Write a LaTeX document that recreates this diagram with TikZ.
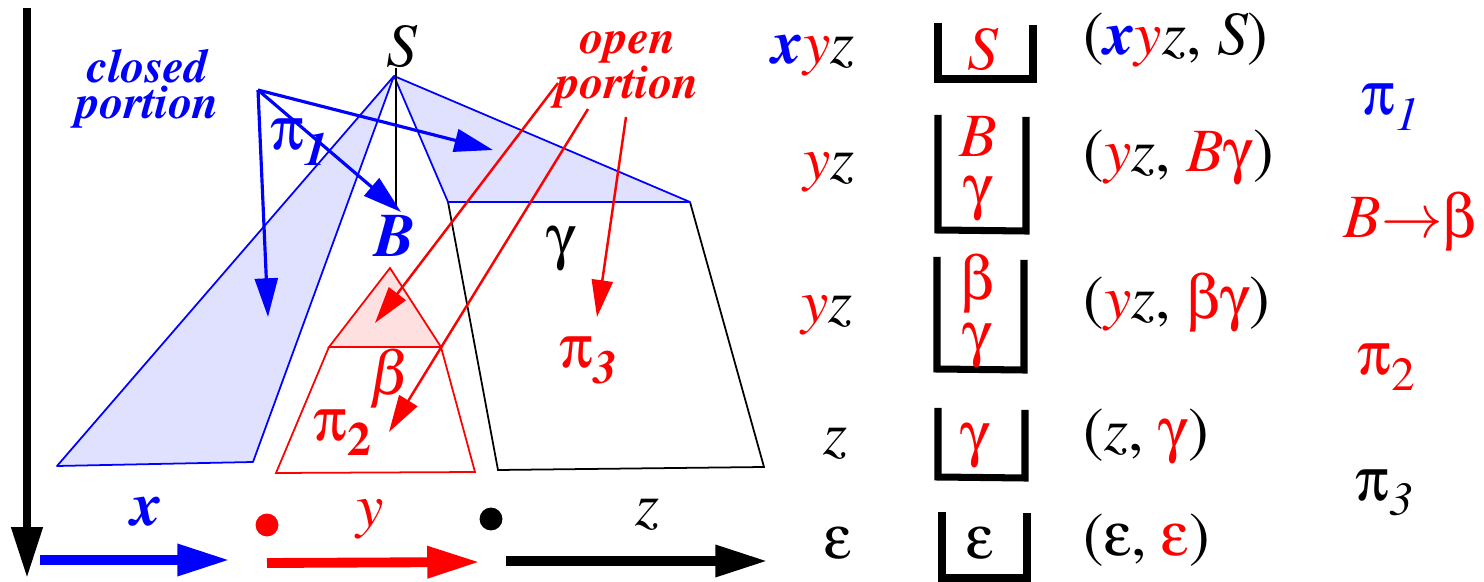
\documentclass[tikz,border=0pt]{standalone}
\usepackage[T1]{fontenc}
\usepackage{mathptmx}
\usepackage[Symbol]{upgreek}
\usetikzlibrary{arrows.meta}

\newcommand{\vx}{{\color{blue}\bfseries\itshape x}}
\newcommand{\vy}{{\color{red}\itshape y}}
\newcommand{\vz}{{\itshape z}}
\newcommand{\gpi}{$\uppi$}
\newcommand{\ggam}{$\upgamma$}
\newcommand{\gbet}{$\upbeta$}
\newcommand{\geps}{$\upepsilon$}
\newcommand{\lowidx}[1]{\raisebox{-4.3pt}{\fontsize{13.5}{14}\selectfont #1}}

\begin{document}
\begin{tikzpicture}[
  x=0.01cm, y=-0.01cm,
  font=\fontsize{17.5}{21}\selectfont,
  txt/.style={inner sep=0pt, anchor=base},
  txtw/.style={inner sep=0pt, anchor=base west},
  txte/.style={inner sep=0pt, anchor=base east},
  portion/.style={inner sep=0pt, align=center, font=\fontsize{13.5}{10.5}\selectfont\bfseries\itshape},
  closedpart/.style={draw=blue, fill=blue!12, line width=0.5pt, line join=round},
  openpart/.style={draw=red, fill=red!12, line width=0.5pt},
  treeline/.style={line width=0.5pt},
  bluearrow/.style={draw=blue, line width=0.9pt, -{Triangle[length=11pt, width=6.5pt]}},
  redarrow/.style={draw=red, line width=0.7pt, -{Triangle[length=10.5pt, width=6pt]}},
  flow/.style={line width=2.8pt, -{Triangle[length=15pt, width=8.5pt]}},
  stackbox/.style={line width=2pt},
  dot/.style={circle, inner sep=0pt, minimum size=6.5pt}
]
\useasboundingbox (0,0) rectangle (1484,582);

% time axis
\coordinate (axtop) at (27,8);
\coordinate (axbot) at (27,578);
\draw[line width=2.3pt, -{Triangle[length=14.5pt, width=8.5pt]}] (axtop) -- (axbot);

% parse tree
\coordinate (apex) at (394,76);
\coordinate (cl1) at (57,466);
\coordinate (cl2) at (253,462);
\coordinate (gl) at (448,202);
\coordinate (gr) at (690,202);
\coordinate (gbl) at (498,470);
\coordinate (gbr) at (764,467);
\coordinate (btop) at (390,268);
\coordinate (bl) at (329,347);
\coordinate (br) at (441,347);
\coordinate (bbl) at (276,473);
\coordinate (bbr) at (475,472);
\coordinate (stemtop) at (396,68);
\coordinate (stembot) at (396,207);

\draw[treeline] (gl) -- (gbl) -- (gbr) -- (gr);
\draw[closedpart] (apex) -- (cl1) -- (cl2) -- cycle;
\draw[closedpart] (apex) -- (gl) -- (gr) -- cycle;
\draw[openpart] (btop) -- (bl) -- (br) -- cycle;
\draw[treeline, draw=red] (bl) -- (bbl) -- (bbr) -- (br);
\draw[treeline] (stemtop) -- (stembot);

\node[txt] (S) at (402,67) {\itshape S};
\node[txt, text=blue] (B) at (395,257) {\bfseries\itshape B};
\node[txtw, text=blue] (pione) at (270,150) {\gpi\lowidx{\bfseries\itshape 1}};
\node[txt] (gam) at (561,258) {\ggam};
\node[txt, text=red] (beta) at (390,395) {$\beta$};
\node[txtw, text=red] (pitwo) at (313,440) {\gpi\lowidx{\bfseries 2}};
\node[txtw, text=red] (pithree) at (559,368) {\gpi\lowidx{\bfseries\itshape 3}};

\node[portion, text=blue] (closed) at (148,89) {closed\\portion};
\node[portion, text=red] (open) at (628,70) {open\\portion};

\coordinate (cpsrc) at (258,90);
\coordinate (cptipa) at (268,317);
\coordinate (cptipb) at (401,212);
\coordinate (cptipc) at (493,150);
\draw[bluearrow] (cpsrc) -- (cptipa);
\draw[bluearrow] (cpsrc) -- (cptipb);
\draw[bluearrow] (cpsrc) -- (cptipc);

\coordinate (opsrca) at (558,83);
\coordinate (optipa) at (375,323);
\coordinate (opsrcb) at (588,109);
\coordinate (optipb) at (389,432);
\coordinate (opsrcc) at (626,117);
\coordinate (optipc) at (597,317);
\draw[redarrow] (opsrca) -- (optipa);
\draw[redarrow] (opsrcb) -- (optipb);
\draw[redarrow] (opsrcc) -- (optipc);

% input string
\node[txt] (xlab) at (147,525) {\vx};
\node[txt] (ylab) at (370,527) {\vy};
\node[txt] (zlab) at (647,525) {\vz};
\node[dot, fill=red] (ydot) at (267,525) {};
\node[dot, fill=black] (zdot) at (491,519) {};
\coordinate (xs) at (40,560);
\coordinate (xe) at (230,560);
\coordinate (ys) at (267,563);
\coordinate (ye) at (480,562);
\coordinate (zs) at (506,561);
\coordinate (ze) at (768,561);
\draw[flow, blue] (xs) -- (xe);
\draw[flow, red] (ys) -- (ye);
\draw[flow] (zs) -- (ze);

% remaining input
\node[txte] (ina) at (855,64) {\vx\vy\vz};
\node[txte] (inb) at (855,180) {\vy\vz};
\node[txte] (inc) at (853,323) {\vy\vz};
\node[txt] (ind) at (835,455) {\vz};
\node[txt] (ine) at (838,558) {\geps};

% stacks
\draw[stackbox] (938,23) -- (938,79) -- (1033,79) -- (1033,25);
\draw[stackbox] (938,115) -- (938,230) -- (1026,231) -- (1026,117);
\draw[stackbox] (937,257) -- (937,369) -- (1024,370) -- (1024,260);
\draw[stackbox] (938,408) -- (938,477) -- (1025,478) -- (1025,410);
\draw[stackbox] (942,512) -- (942,578) -- (1027,578) -- (1027,513);

\node[txt, text=red] (sta) at (983,70) {\itshape S};
\node[txt, text=red] (stbB) at (978,157) {\itshape B};
\node[txt, text=red] (stbg) at (978,208) {\ggam};
\node[txt, text=red] (stcb) at (977,300) {\gbet};
\node[txt, text=red] (stcg) at (977,354) {\ggam};
\node[txt, text=red] (stdg) at (975,455) {\ggam};
\node[txt] (ste) at (980,558) {\geps};

% configurations
\node[txtw] (cfa) at (1083,55) {(\vx\vy\vz, {\itshape S})};
\node[txtw] (cfb) at (1083,172) {(\vy\vz, {\color{red}\itshape B}\textcolor{red}{\ggam})};
\node[txtw] (cfc) at (1083,318) {(\vy\vz, \textcolor{red}{\gbet\ggam})};
\node[txtw] (cfd) at (1083,450) {(\vz, \textcolor{red}{\ggam})};
\node[txtw] (cfe) at (1083,555) {(\geps, \textcolor{red}{\geps})};

% derivation steps
\node[txtw, text=blue] (stepa) at (1361,115) {\gpi\lowidx{\itshape 1}};
\node[txtw, text=red] (stepb) at (1343,238) {{\itshape B}$\rightarrow$\gbet};
\node[txtw, text=red] (stepc) at (1357,375) {\gpi\lowidx{2}};
\node[txtw] (stepd) at (1355,500) {\gpi\lowidx{\itshape 3}};

\end{tikzpicture}
\end{document}
